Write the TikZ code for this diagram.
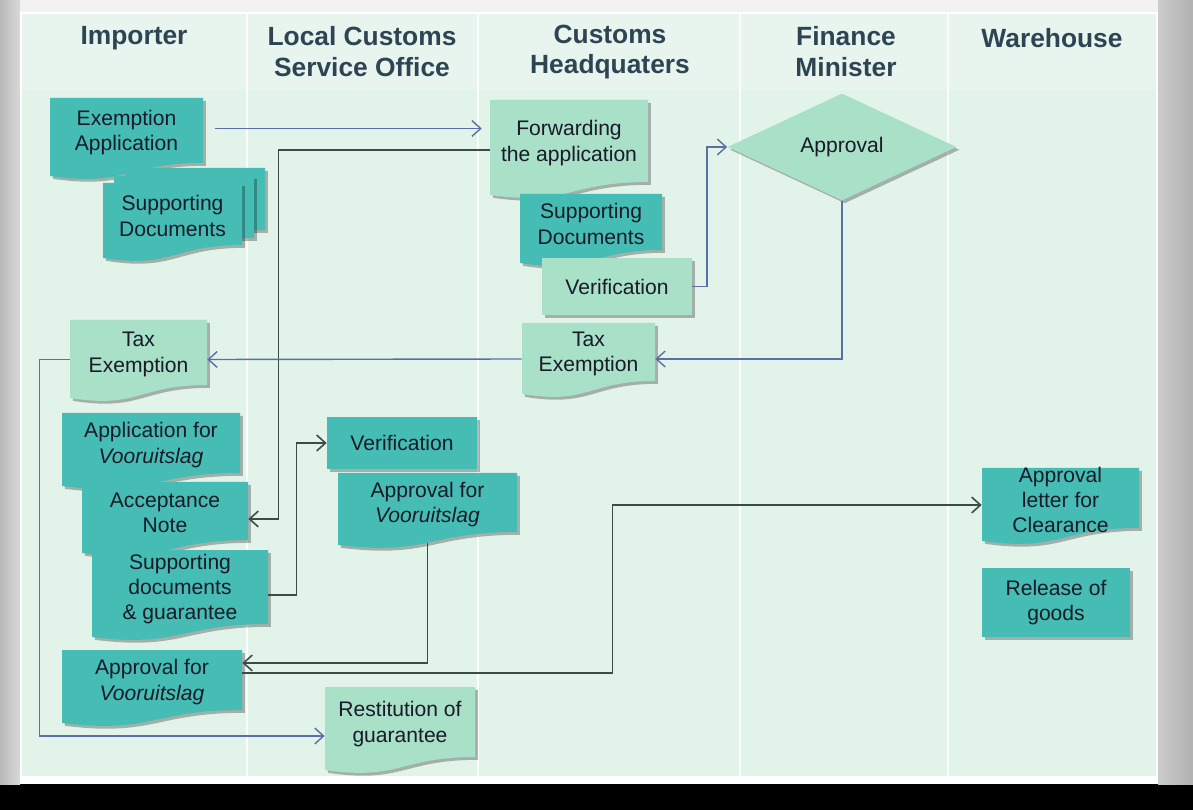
\documentclass[tikz,border=0pt]{standalone}
\usepackage{fontspec}
\setmainfont{Liberation Sans}
\usetikzlibrary{shapes.geometric,shadows,calc,arrows.meta}
\definecolor{tealf}{HTML}{45BDB5}
\definecolor{lightf}{HTML}{A8E0C8}
\definecolor{panel}{HTML}{E2F3EA}
\definecolor{hdr}{HTML}{2E4452}
\definecolor{bline}{HTML}{5B6FA6}
\definecolor{dline}{HTML}{3C4A48}
\definecolor{txtc}{HTML}{1A1A28}
\tikzset{
 shd/.style={drop shadow={shadow xshift=1.6pt,shadow yshift=-1.6pt,fill=black,opacity=0.28}},
 lbl/.style={font=\fontsize{12}{14.3}\selectfont, text=txtc, align=center, inner sep=0pt},
 hdrtext/.style={font=\bfseries\fontsize{15}{17.6}\selectfont, text=hdr, align=center},
 bflow/.style={draw=bline, line width=0.8pt, -{Straight Barb[length=5pt,width=9pt]}},
 dflow/.style={draw=dline, line width=0.9pt, -{Straight Barb[length=5pt,width=9pt]}},
 lane/.style={draw=white, line width=1.5pt, opacity=0.85},
}
% document shape: L T R B fill
\newcommand\DocShape[5]{%
 \fill[#5,shd] (#1,#2) -- (#3,#2) -- (#3,#4) .. controls ({(#1+#3)/2},#4) and ({(#1+#3)/2},{#4+24}) .. (#1,{#4+13}) -- cycle;}
% name L T R B fill text
\newcommand\DocNode[7]{%
 \DocShape{#2}{#3}{#4}{#5}{#6}
 \node[lbl, minimum width={(#4-#2)*0.02cm}, minimum height={(#5-#3)*0.02cm}] (#1) at ({(#2+#4)/2},{(#3+#5)/2+2}) {#7};}
\newcommand\RectNode[7]{%
 \fill[#6,shd] (#2,#3) rectangle (#4,#5);
 \node[lbl, minimum width={(#4-#2)*0.02cm}, minimum height={(#5-#3)*0.02cm}] (#1) at ({(#2+#4)/2},{(#3+#5)/2}) {#7};}
\begin{document}
\begin{tikzpicture}[x=0.02cm, y=-0.02cm]
\useasboundingbox (0,0) rectangle (1193,810);
% frame
\fill[black] (0,0) rectangle (1193,810);
\fill[gray!10] (0,0) rectangle (1193,784);
\shade[left color=gray!55, right color=gray!30] (0,0) rectangle (20,784);
\shade[left color=gray!40, right color=gray!62] (1158,0) rectangle (1193,784);
\fill[white] (20,12) rectangle (1158,784);
\fill[panel] (22,14) rectangle (1156,776);
\fill[white, opacity=0.2] (22,14) rectangle (1156,90);
% lanes
\foreach \x in {247,478,740,948} \draw[lane] (\x,14) -- (\x,776);
% headers
\node[hdrtext] (h1) at (134,38) {Importer};
\node[hdrtext] (h2) at (362,52) {Local Customs\\Service Office};
\node[hdrtext] (h3) at (610,52) {Customs\\Headquaters};
\node[hdrtext] (h4) at (846,52) {Finance\\Minister};
\node[hdrtext] (h5) at (1052,38) {Warehouse};
% importer top
\DocNode{expapp}{50}{98}{203}{163}{tealf}{Exemption\\Application}
\DocShape{125}{168}{265}{230}{tealf}
\DocShape{114}{176}{254}{238}{tealf}
\DocNode{supd}{103}{183}{242}{245}{tealf}{Supporting\\Documents}
% headquarters
\DocNode{fwd}{490}{100}{648}{182}{lightf}{Forwarding\\the application}
\DocNode{supd2}{520}{194}{662}{250}{tealf}{Supporting\\Documents}
\RectNode{ver1}{542}{258}{692}{315}{lightf}{Verification}
\DocNode{taxh}{522}{323}{655}{381}{lightf}{Tax\\Exemption}
% finance
\node[diamond, fill=lightf, shd, lbl, minimum width={229*0.02cm}, minimum height={107*0.02cm}] (appr) at (842,147) {Approval};
% importer lower
\DocNode{taxi}{70}{320}{207}{385}{lightf}{Tax\\Exemption}
\DocNode{avi}{62}{413}{240}{473}{tealf}{Application for\\\textit{Vooruitslag}}
\DocNode{acc}{82}{482}{248}{540}{tealf}{Acceptance\\Note}
\DocNode{sdg}{92}{550}{268}{624}{tealf}{Supporting\\documents\\\& guarantee}
\DocNode{api}{62}{650}{242}{710}{tealf}{Approval for\\\textit{Vooruitslag}}
% local office
\RectNode{ver2}{327}{417}{477}{469}{tealf}{Verification}
\DocNode{apl}{338}{473}{517}{532}{tealf}{Approval for\\\textit{Vooruitslag}}
\DocNode{rest}{325}{687}{475}{757}{lightf}{Restitution of\\guarantee}
% warehouse
\DocNode{alc}{982}{468}{1139}{528}{tealf}{Approval\\letter for\\Clearance}
\RectNode{rel}{982}{568}{1130}{637}{tealf}{Release of\\goods}
% connectors
\draw[bflow, shorten <=6.5pt, shorten >=4.5pt] ($(expapp.east)+(0,-4)$) -- ($(fwd.west |- expapp.east)+(0,-4)$);
\draw[dflow] ($(fwd.west)+(0,7)$) -| ($(acc.east)+(30,6)$) -- ($(acc.east)+(0,6)$);
\draw[bflow] (ver1.east) -| ($(appr.west)+(-20,0)$) -- (appr.west);
\draw[bflow] (appr.south) |- ($(taxh.east)+(0,5)$);
\draw[bflow] ($(taxh.west)+(0,5)$) -- ($(taxi.east)+(0,5)$);
\draw[bflow] ($(taxi.west)+(0,5)$) -| ($(rest.west)+(-285,12)$) -- ($(rest.west)+(0,12)$);
\draw[dflow] ($(sdg.east)+(0,6)$) -| ($(ver2.west)+(-30,0)$) -- (ver2.west);
\draw[dflow] ($(apl.south)+(0,9)$) |- ($(api.east)+(0,-19)$);
\draw[dflow] ($(api.east)+(0,-9)$) -| ($(alc.west)+(-369,5)$) -- ($(alc.west)+(0,5)$);
\end{tikzpicture}
\end{document}
